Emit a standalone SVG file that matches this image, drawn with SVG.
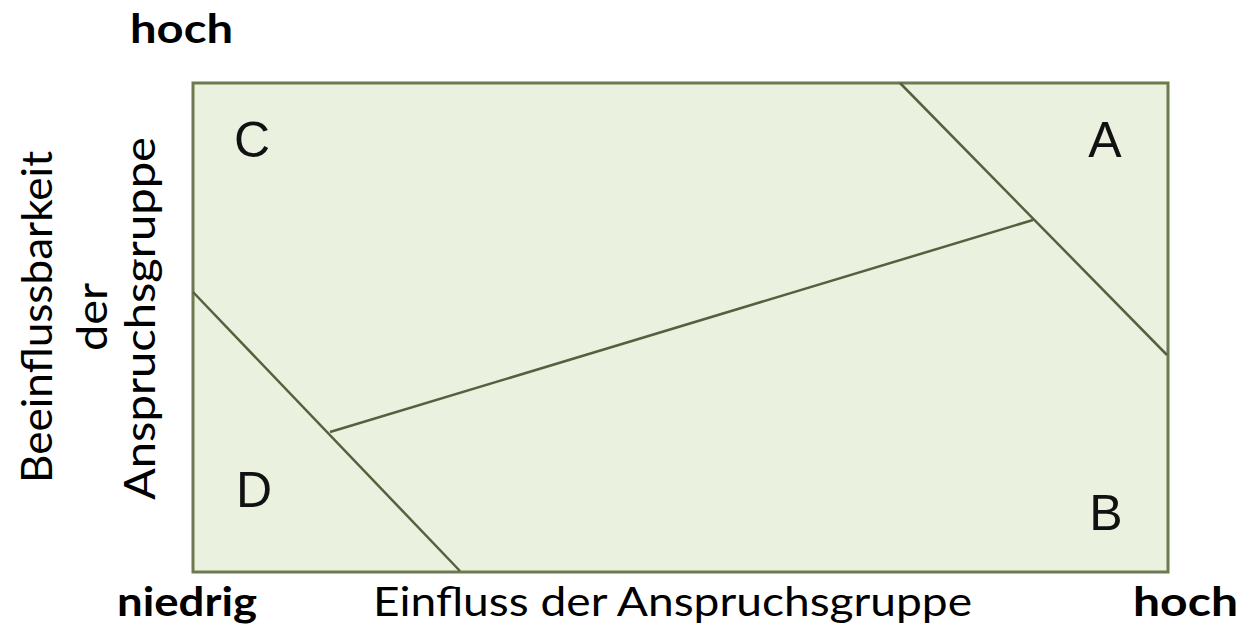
<svg xmlns="http://www.w3.org/2000/svg" width="1247" height="629" viewBox="0 0 1247 629">
<style>
.ax{font-family:"Lato","Liberation Sans",sans-serif;font-size:40px;fill:#000}
.v{font-size:42px}
.b{font-weight:bold}
.q{font-family:"Liberation Sans",Arial,sans-serif;font-size:50px;fill:#111;text-anchor:middle}
.div{stroke:#55603f;stroke-width:2.5;fill:none}
</style>
<rect width="1247" height="629" fill="#fff"/>
<g id="matrix">
<rect x="193" y="83" width="975" height="489" fill="#eaf1df" stroke="#6b7a4f" stroke-width="3"/>
</g>
<g id="connectors">
<line class="div" x1="900" y1="83" x2="1167" y2="355"/>
<line class="div" x1="193" y1="292" x2="460" y2="571"/>
<line class="div" x1="330" y1="432" x2="1033" y2="220"/>
</g>
<g id="quadrant-C"><text class="q" x="252" y="157">C</text></g>
<g id="quadrant-A"><text class="q" x="1105" y="157">A</text></g>
<g id="quadrant-D"><text class="q" x="254" y="507">D</text></g>
<g id="quadrant-B"><text class="q" x="1106" y="530">B</text></g>
<g id="y-axis">
<text class="ax b" x="130" y="43" textLength="103" lengthAdjust="spacingAndGlyphs">hoch</text>
<g transform="translate(0,317) rotate(-90)">
<text class="ax v" x="-166" y="52" textLength="332" lengthAdjust="spacingAndGlyphs">Beeinflussbarkeit</text>
<text class="ax v" x="-34" y="107" textLength="68" lengthAdjust="spacingAndGlyphs">der</text>
<text class="ax v" x="-183" y="155" textLength="363" lengthAdjust="spacingAndGlyphs">Anspruchsgruppe</text>
</g>
</g>
<g id="x-axis">
<text class="ax b" x="117" y="616" textLength="140" lengthAdjust="spacingAndGlyphs">niedrig</text>
<text class="ax" x="373" y="616" textLength="599" lengthAdjust="spacingAndGlyphs">Einfluss der Anspruchsgruppe</text>
<text class="ax b" x="1133" y="616" textLength="105" lengthAdjust="spacingAndGlyphs">hoch</text>
</g>
</svg>
